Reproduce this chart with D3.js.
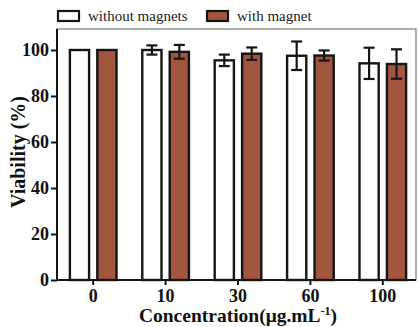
<!DOCTYPE html>
<html>
<head>
<meta charset="utf-8">
<script src="https://cdn.jsdelivr.net/npm/d3@7/dist/d3.min.js"></script>
<style>
  html, body { margin: 0; padding: 0; background: #fff; }
  svg { display: block; }
</style>
</head>
<body>
<svg id="chart" width="419" height="327"></svg>
<script>
// Cell viability at each concentration, with and without a magnetic field
const concentrations = ["0", "10", "30", "60", "100"];
const seriesNames = ["without magnets", "with magnet"];
const withoutMagnets = [100, 100, 95.5, 97.5, 94.2];
const withoutMagnetsErr = [0, 2, 2.5, 6.2, 6.8];
const withMagnet = [100, 99.2, 98.4, 97.6, 93.9];
const withMagnetErr = [0, 3, 2.7, 2.2, 6.4];
const yTicks = [0, 20, 40, 60, 80, 100];

const fills = ["#ffffff", "#a2553f"];
const serifStack = "'Liberation Serif', 'Times New Roman', serif";

const svg = d3.select("#chart");
const plotLeft = 57, plotRight = 416, plotTop = 29, plotBottom = 280;

const x0 = d3.scaleBand().domain(concentrations).range([plotLeft, 419]).padding(0);
const x1 = d3.scaleBand().domain(seriesNames).range([0, x0.bandwidth()])
  .paddingInner(0.3).paddingOuter(0.47);
const y = d3.scaleLinear().domain([0, 100]).range([plotBottom, 50]);

const rows = concentrations.map((c, i) => ({
  c,
  vals: [
    { s: seriesNames[0], v: withoutMagnets[i], e: withoutMagnetsErr[i], k: 0 },
    { s: seriesNames[1], v: withMagnet[i], e: withMagnetErr[i], k: 1 }
  ]
}));

// plot frame
svg.append("rect")
  .attr("x", plotLeft).attr("y", plotTop)
  .attr("width", plotRight - plotLeft).attr("height", plotBottom - plotTop)
  .attr("fill", "none").attr("stroke", "#7a7a7a").attr("stroke-width", 1.2);

// bars
const groups = svg.selectAll("g.grp").data(rows).join("g")
  .attr("class", "grp")
  .attr("transform", d => `translate(${x0(d.c)},0)`);

groups.selectAll("rect").data(d => d.vals).join("rect")
  .attr("x", d => x1(d.s))
  .attr("y", d => y(d.v))
  .attr("width", x1.bandwidth())
  .attr("height", d => y(0) - y(d.v))
  .attr("fill", d => fills[d.k])
  .attr("stroke", "#151515")
  .attr("stroke-width", 2.4);

// error bars
const cap = 5.5;
groups.selectAll("g.err").data(d => d.vals.filter(v => v.e > 0)).join("g")
  .attr("class", "err")
  .each(function(d) {
    const g = d3.select(this);
    const cx = x1(d.s) + x1.bandwidth() / 2;
    const y1 = y(d.v + d.e), y2 = y(d.v - d.e);
    g.append("line").attr("x1", cx).attr("x2", cx).attr("y1", y1).attr("y2", y2);
    g.append("line").attr("x1", cx - cap).attr("x2", cx + cap).attr("y1", y1).attr("y2", y1);
    g.append("line").attr("x1", cx - cap).attr("x2", cx + cap).attr("y1", y2).attr("y2", y2);
  })
  .selectAll("line")
  .attr("stroke", "#151515").attr("stroke-width", 2.2);

// y axis
const yAxis = svg.append("g")
  .attr("transform", `translate(${plotLeft},0)`)
  .call(d3.axisLeft(y).tickValues(yTicks).tickSize(6).tickPadding(2));
yAxis.select(".domain").remove();
yAxis.append("line")
  .attr("x1", 0).attr("x2", 0).attr("y1", plotTop).attr("y2", plotBottom)
  .attr("stroke", "#151515").attr("stroke-width", 2);
yAxis.selectAll(".tick line").attr("stroke", "#151515").attr("stroke-width", 2);
yAxis.selectAll(".tick text")
  .style("font-family", serifStack).style("font-weight", "bold")
  .style("font-size", "18px").attr("fill", "#111");

// x axis
const xAxis = svg.append("g")
  .attr("transform", `translate(0,${plotBottom})`)
  .call(d3.axisBottom(x0).tickSize(5).tickPadding(4));
xAxis.select(".domain").remove();
xAxis.append("line")
  .attr("x1", plotLeft).attr("x2", plotRight).attr("y1", 0).attr("y2", 0)
  .attr("stroke", "#151515").attr("stroke-width", 2);
xAxis.selectAll(".tick line").attr("stroke", "#151515").attr("stroke-width", 2);
xAxis.selectAll(".tick text")
  .style("font-family", serifStack).style("font-weight", "bold")
  .style("font-size", "18px").attr("fill", "#111");

// axis titles
svg.append("text")
  .attr("transform", "translate(25,152) rotate(-90)")
  .attr("text-anchor", "middle")
  .style("font-family", serifStack).style("font-weight", "bold").style("font-size", "20px")
  .attr("fill", "#111")
  .text("Viability (%)");

const xt = svg.append("text")
  .attr("x", 238).attr("y", 322)
  .attr("text-anchor", "middle")
  .style("font-family", serifStack).style("font-weight", "bold").style("font-size", "19.5px")
  .attr("fill", "#111");
xt.append("tspan").text("Concentration(μg.mL");
xt.append("tspan").attr("dy", -7).style("font-size", "12px").text("-1");
xt.append("tspan").attr("dy", 7).text(")");

// legend
const legendX = [58, 207];
const legend = svg.selectAll("g.leg").data(seriesNames).join("g")
  .attr("class", "leg")
  .attr("transform", (d, i) => `translate(${legendX[i]},11)`);
legend.append("rect")
  .attr("width", 21).attr("height", 10)
  .attr("fill", (d, i) => fills[i])
  .attr("stroke", "#151515").attr("stroke-width", 2.2);
legend.append("text")
  .attr("x", 30).attr("y", 9.5)
  .style("font-family", serifStack).style("font-size", "15px")
  .attr("fill", "#222")
  .text(d => d);
</script>
</body>
</html>
